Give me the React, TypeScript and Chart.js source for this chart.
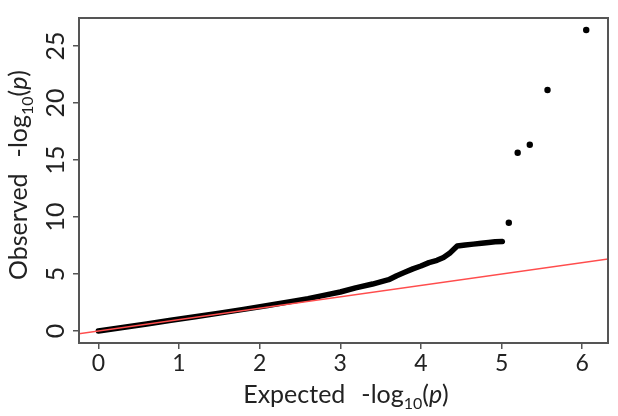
import React, { useEffect, useRef } from 'react';
import { Chart, registerables } from 'chart.js';

Chart.register(...registerables);

// Main QQ curve (expected vs observed -log10 p)
const curveExpected = [0, 0.3, 0.6, 0.9, 1.2, 1.5, 1.8, 2.1, 2.4, 2.6, 2.78, 3.0, 3.19, 3.4, 3.6, 3.7, 3.8, 3.9, 4.0, 4.1, 4.2, 4.28, 4.36, 4.45, 4.55, 4.65, 4.75, 4.84, 4.92, 5.01];
const curveObserved = [0, 0.31, 0.62, 0.94, 1.25, 1.57, 1.9, 2.24, 2.6, 2.84, 3.1, 3.42, 3.78, 4.12, 4.5, 4.85, 5.15, 5.45, 5.7, 6.0, 6.2, 6.45, 6.85, 7.45, 7.55, 7.62, 7.7, 7.76, 7.82, 7.86];

// Isolated top hits
const outlierExpected = [5.09, 5.2, 5.35, 5.57, 6.05];
const outlierObserved = [9.49, 15.63, 16.34, 21.14, 26.4];

// Reference line y = x (end points beyond the axis range, clipped)
const refLineEnds = [-0.5, 7];

const xTicks = [0, 1, 2, 3, 4, 5, 6];
const yTicks = [0, 5, 10, 15, 20, 25];
const xRange = [-0.24, 6.32];
const yRange = [-1.05, 27.45];

const FONT = 'Lato, "Open Sans", sans-serif';

const frameAndTitles = {
  id: 'frameAndTitles',
  afterDraw(chart: any) {
    const { ctx, chartArea } = chart;
    ctx.save();
    ctx.strokeStyle = '#555';
    ctx.lineWidth = 2;
    ctx.strokeRect(chartArea.left, chartArea.top, chartArea.right - chartArea.left, chartArea.bottom - chartArea.top);

    const drawTitle = (prefix: string) => {
      const big = `25px ${FONT}`;
      const small = `16px ${FONT}`;
      const ital = `italic 25px ${FONT}`;
      const parts = [
        { t: prefix, f: big, dy: 0, gap: 16 },
        { t: '-log', f: big, dy: 0, gap: 0 },
        { t: '10', f: small, dy: 6, gap: 0 },
        { t: '(', f: big, dy: 0, gap: 0 },
        { t: 'p', f: ital, dy: 0, gap: 0 },
        { t: ')', f: big, dy: 0, gap: 0 },
      ];
      let total = 0;
      const widths = parts.map((p) => {
        ctx.font = p.f;
        const w = ctx.measureText(p.t).width + p.gap;
        total += w;
        return w;
      });
      let x = -total / 2;
      ctx.fillStyle = '#222';
      ctx.textBaseline = 'alphabetic';
      ctx.textAlign = 'left';
      parts.forEach((p, i) => {
        ctx.font = p.f;
        ctx.fillText(p.t, x, p.dy);
        x += widths[i];
      });
    };

    // x title
    ctx.save();
    ctx.translate(346, 403);
    drawTitle('Expected');
    ctx.restore();

    // y title
    ctx.save();
    ctx.translate(27, 175);
    ctx.rotate(-Math.PI / 2);
    drawTitle('Observed');
    ctx.restore();

    ctx.restore();
  },
};

export default function App() {
  const ref = useRef<HTMLCanvasElement | null>(null);

  useEffect(() => {
    if (!ref.current) return;
    const chart = new Chart(ref.current, {
      type: 'scatter',
      data: {
        datasets: [
          {
            label: 'y = x',
            data: refLineEnds.map((v) => ({ x: v, y: v })),
            showLine: true,
            borderColor: '#ff4d4d',
            borderWidth: 1.5,
            pointRadius: 0,
          },
          {
            label: 'outliers',
            data: outlierExpected.map((x, i) => ({ x, y: outlierObserved[i] })),
            backgroundColor: '#000',
            borderColor: '#000',
            pointRadius: 3.2,
            borderWidth: 0,
          },
          {
            label: 'curve',
            data: curveExpected.map((x, i) => ({ x, y: curveObserved[i] })),
            showLine: true,
            borderColor: '#000',
            backgroundColor: '#000',
            borderWidth: 5.5,
            borderCapStyle: 'round',
            borderJoinStyle: 'round',
            pointRadius: 0,
          },
        ],
      },
      options: {
        animation: false,
        responsive: false,
        layout: { padding: { top: 9, right: 10, left: 0, bottom: 0 } },
        plugins: { legend: { display: false }, tooltip: { enabled: false } },
        scales: {
          x: {
            type: 'linear',
            min: xRange[0],
            max: xRange[1],
            afterBuildTicks: (s: any) => {
              s.ticks = xTicks.map((v) => ({ value: v }));
            },
            afterFit: (s: any) => {
              s.height = 73;
            },
            grid: { drawOnChartArea: false, drawTicks: true, tickLength: 6, color: '#555', lineWidth: 1.5 },
            border: { display: false },
            ticks: { font: { family: FONT, size: 23 }, color: '#222', padding: 1, maxRotation: 0 },
          },
          y: {
            type: 'linear',
            min: yRange[0],
            max: yRange[1],
            afterBuildTicks: (s: any) => {
              s.ticks = yTicks.map((v) => ({ value: v }));
            },
            afterFit: (s: any) => {
              s.width = 79;
            },
            grid: { drawOnChartArea: false, drawTicks: true, tickLength: 6, color: '#555', lineWidth: 1.5 },
            border: { display: false },
            ticks: {
              font: { family: FONT, size: 25 },
              color: '#222',
              padding: 3,
              minRotation: 90,
              maxRotation: 90,
              crossAlign: 'center',
            },
          },
        },
      },
      plugins: [frameAndTitles],
    } as any);
    return () => chart.destroy();
  }, []);

  return (
    <div style={{ position: 'fixed', left: 0, top: 0, width: 618, height: 416, background: '#fff' }}>
      <canvas ref={ref} width={618} height={416} style={{ display: 'block' }} />
    </div>
  );
}
